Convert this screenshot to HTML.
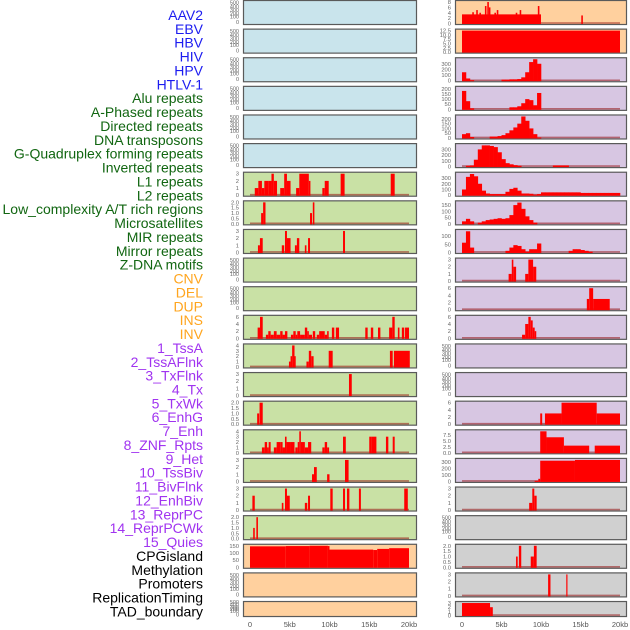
<!DOCTYPE html>
<html><head><meta charset="utf-8">
<style>
html,body{margin:0;padding:0;background:#fff;width:630px;height:630px;overflow:hidden}
svg{display:block}
text{font-family:"Liberation Sans",sans-serif}
</style></head>
<body>
<svg id="chart" width="630" height="630" viewBox="0 0 630 630" xmlns="http://www.w3.org/2000/svg"></svg>
<script>
// ---- labels ----
const labelNames = ["AAV2","EBV","HBV","HIV","HPV","HTLV-1","Alu repeats","A-Phased repeats","Directed repeats","DNA transposons","G-Quadruplex forming repeats","Inverted repeats","L1 repeats","L2 repeats","Low_complexity A/T rich regions","Microsatellites","MIR repeats","Mirror repeats","Z-DNA motifs","CNV","DEL","DUP","INS","INV","1_TssA","2_TssAFlnk","3_TxFlnk","4_Tx","5_TxWk","6_EnhG","7_Enh","8_ZNF_Rpts","9_Het","10_TssBiv","11_BivFlnk","12_EnhBiv","13_ReprPC","14_ReprPCWk","15_Quies","CPGisland","Methylation","Promoters","ReplicationTiming","TAD_boundary"];
const labelGroups = ["v","v","v","v","v","v","r","r","r","r","r","r","r","r","r","r","r","r","r","s","s","s","s","s","c","c","c","c","c","c","c","c","c","c","c","c","c","c","c","o","o","o","o","o"];
const xTicks = [0,5,10,15,20];
const xTickLabels = ["0","5kb","10kb","15kb","20kb"];

// ---- left column segment data [startKb, endKb, value] ----
const L6 = [[0.6,1.05,1],[1.05,1.5,2],[1.5,1.8,1],[1.8,2.3,2],[2.3,2.7,2],[2.7,3.0,3],[3.0,3.4,2],[3.8,4.3,1],[4.3,4.65,3],[4.65,5.1,2],[5.8,6.2,1],[6.2,7.4,3],[7.4,7.6,2],[9.1,9.4,1],[9.4,9.9,2],[11.4,11.9,3],[17.7,18.2,3]];
const L7 = [[1.4,1.65,1],[1.65,1.95,2],[7.55,7.8,1],[7.9,8.1,2]];
const L8 = [[1.0,1.25,1],[1.25,1.6,2],[4.0,4.3,1],[4.4,4.65,3],[4.65,5.1,2],[5.65,5.9,1],[5.9,6.2,2],[6.9,7.1,1],[7.3,7.55,2],[11.7,11.95,3]];
const L11 = [[0.96,1.26,3],[1.26,1.6,6],[2.0,2.3,1],[2.3,2.6,2],[2.6,3.0,1],[3.0,3.35,2],[3.35,3.8,1],[3.8,4.1,2],[4.1,4.4,1],[4.4,4.7,2],[5.15,5.45,1],[5.45,5.75,2],[5.75,5.95,1],[5.95,6.3,2],[6.3,6.9,1],[6.9,7.2,3],[7.2,7.4,2],[7.4,7.8,1],[7.9,8.2,2],[8.4,8.7,1],[8.7,9.4,2],[9.4,9.7,1],[9.7,9.9,2],[10.3,10.6,3],[10.8,11.2,3],[14.5,14.8,3],[15.2,15.5,3],[16.1,16.4,3],[17.5,17.9,3],[17.9,18.2,6],[18.6,18.8,3],[19.1,19.4,3],[19.5,20.0,3]];
const L12 = [[4.9,5.1,1],[5.1,5.3,2],[5.3,5.6,4],[5.6,5.75,2],[7.1,7.4,1],[7.4,7.7,3],[7.7,8.0,2],[9.9,10.4,3],[17.6,17.95,3],[18.1,20.1,3]];
const L13 = [[12.45,12.8,3]];
const L14 = [[0.9,1.15,1],[1.2,1.6,2]];
const L15 = [[1.5,1.85,1],[1.85,2.15,2],[2.15,2.35,1],[2.35,2.6,2],[3.0,3.35,1],[3.35,3.8,2],[3.8,4.1,2],[4.1,4.4,1],[4.4,4.6,3],[4.6,5.1,2],[5.1,5.6,2],[5.7,6.0,1],[6.0,6.2,2],[6.2,6.4,4],[6.4,6.9,2],[6.9,7.3,1],[7.3,7.7,2],[9.1,9.4,1],[9.4,9.7,2],[9.7,9.95,1],[11.7,12.05,3],[15.0,15.3,3],[15.3,15.9,3],[17.1,17.4,3],[17.95,18.2,3]];
const L16 = [[7.8,8.05,1],[8.05,8.4,2],[9.7,10.0,1],[11.95,12.4,3]];
const L17 = [[0.3,0.6,2],[4.0,4.2,1],[4.4,4.65,3],[4.65,5.0,2],[6.9,7.2,1],[7.3,7.55,2],[10.1,10.4,3],[11.7,11.95,3],[12.2,12.5,3],[13.7,13.95,3],[19.4,19.85,3]];
const L18 = [[0.4,0.6,1],[0.8,1.0,2]];
const L19 = [[0,4.5,148],[4.5,7.5,150],[7.5,9.8,152],[9.8,10,150],[10,15.5,125],[15.5,16,122],[16,17.5,130],[17.5,20,135]];

// ---- right column data ----
const R0 = [[0,10,3.4],[1.3,1.5,4.2],[1.8,2.0,5],[2.2,2.4,4],[2.9,3.1,6.5],[3.2,3.4,8],[3.4,3.6,6],[4.1,4.3,4],[4.4,4.6,5],[6.8,7.0,4],[7.3,7.5,5],[9.6,9.8,6.5],[15.1,15.3,3]];
const R1 = [[0,20,12.5]];
const R2bins = [150,40,10,0,0,0,0,0,0,0,20,20,25,25,30,60,150,330,380,300,0,0,0,0,0,0,0,0,0,0,0,0,0,0,0,0,0,0,0,0];
const R3bins = [180,80,10,0,0,0,0,0,0,0,0,0,20,20,30,60,100,90,40,160,0,0,0,0,0,0,0,0,0,0,0,0,0,0,0,0,0,0,0,0];
const R4bins = [40,50,10,0,0,0,0,15,15,20,30,50,80,110,150,225,180,100,40,5,0,0,0,0,0,0,0,0,0,0,0,0,0,0,0,0,0,0,0,0];
const R5bins = [0,15,20,120,300,370,370,360,340,250,130,60,40,25,15,0,0,0,0,0,0,0,0,20,20,20,20,0,0,0,0,0,0,0,0,0,0,0,0,0];
const R6bins = [100,320,370,330,200,80,30,20,20,20,20,60,110,130,80,30,30,25,10,20,50,50,50,50,50,50,50,50,50,50,40,40,40,40,40,40,40,40,40,40];
const R7bins = [20,40,20,0,10,20,30,35,40,45,40,45,70,150,170,120,60,30,10,0,0,0,0,0,0,0,0,0,0,0,0,0,0,0,0,0,0,0,0,0];
const R8bins = [60,130,30,0,0,0,0,0,0,0,0,10,30,45,40,20,5,20,20,55,0,0,0,0,0,0,0,10,20,20,15,10,5,0,0,0,0,0,0,0];
const R9 = [[5.9,6.3,1],[6.3,6.5,3],[6.5,6.85,2],[8.0,8.4,1],[8.4,9.0,3],[9.0,9.4,2]];
const R10 = [[15.8,16.1,3],[16.1,16.6,6],[16.6,18.7,3]];
const R11 = [[7.6,8.0,1],[8.0,8.4,4],[8.4,8.7,6],[8.7,8.95,5],[8.95,9.2,3],[9.2,9.4,2]];
const R14 = [[9.9,10.15,3],[10.5,12.6,3],[12.6,17.05,6],[17.05,20,3]];
const R15 = [[9.9,10.7,9],[10.7,12.9,6.5],[12.9,16.1,3],[16.8,20,3]];
const R16 = [[9.2,9.66,10],[9.66,9.9,40],[9.9,14.3,318],[14.3,20,330]];
const R17 = [[8.5,8.9,1],[8.9,9.15,3],[9.15,9.45,2]];
const R19 = [[6.84,7.05,1],[7.2,7.5,2],[8.7,9.1,1],[9.1,9.45,2]];
const R20 = [[10.9,11.2,3],[13.2,13.35,3]];
const R21 = [[0,3.55,3],[3.55,3.9,2]];

const NS = "http://www.w3.org/2000/svg";
const svg = document.getElementById("chart");
function mk(tag, attrs, parent){
  const e = document.createElementNS(NS, tag);
  for (const k in attrs) e.setAttribute(k, attrs[k]);
  (parent||svg).appendChild(e);
  return e;
}
const BG = {blue:"#c9e4ec", green:"#c9e1a5", orange:"#ffd09e", purple:"#d7c6e2", gray:"#d0d0d0"};
const COLS = [{x0:243,x1:417,z:250,t:409},{x0:455,x1:627,z:462,t:620}];
function rowTop(r){ return r*28.62; }
function rowH(r){ return r===21 ? 16 : 25; }

const panels = [
 // left column
 {c:0,r:0,bg:"blue"},{c:0,r:1,bg:"blue"},{c:0,r:2,bg:"blue"},{c:0,r:3,bg:"blue"},{c:0,r:4,bg:"blue"},{c:0,r:5,bg:"blue"},
 {c:0,r:6,bg:"green",max:3,ticks:[0,1,2,3],segs:L6},
 {c:0,r:7,bg:"green",max:2,ticks:[0,0.5,1,1.5,2],dec:1,segs:L7},
 {c:0,r:8,bg:"green",max:3,ticks:[0,1,2,3],segs:L8},
 {c:0,r:9,bg:"green"},{c:0,r:10,bg:"green"},
 {c:0,r:11,bg:"green",max:6,ticks:[0,2,4,6],segs:L11},
 {c:0,r:12,bg:"green",max:4,ticks:[0,1,2,3,4],segs:L12},
 {c:0,r:13,bg:"green",max:3,ticks:[0,1,2,3],segs:L13},
 {c:0,r:14,bg:"green",max:2,ticks:[0,0.5,1,1.5,2],dec:1,segs:L14},
 {c:0,r:15,bg:"green",max:4,ticks:[0,1,2,3,4],segs:L15},
 {c:0,r:16,bg:"green",max:3,ticks:[0,1,2,3],segs:L16},
 {c:0,r:17,bg:"green",max:3,ticks:[0,1,2,3],segs:L17},
 {c:0,r:18,bg:"green",max:2,ticks:[0,0.5,1,1.5,2],dec:1,segs:L18},
 {c:0,r:19,bg:"orange",max:152,ticks:[0,50,100,150],segs:L19,nobase:true},
 {c:0,r:20,bg:"orange"},{c:0,r:21,bg:"orange"},
 // right column
 {c:1,r:0,bg:"orange",max:8,ticks:[0,2,4,6,8],segs:R0},
 {c:1,r:1,bg:"orange",max:12.5,ticks:[0,2.5,5,7.5,10,12.5],dec:1,segs:R1},
 {c:1,r:2,bg:"purple",max:380,ticks:[0,100,200,300],bins:R2bins},
 {c:1,r:3,bg:"purple",max:210,ticks:[0,50,100,150,200],bins:R3bins},
 {c:1,r:4,bg:"purple",max:225,ticks:[0,50,100,150,200],bins:R4bins},
 {c:1,r:5,bg:"purple",max:375,ticks:[0,100,200,300],bins:R5bins},
 {c:1,r:6,bg:"purple",max:375,ticks:[0,100,200,300],bins:R6bins},
 {c:1,r:7,bg:"purple",max:172,ticks:[0,50,100,150],bins:R7bins},
 {c:1,r:8,bg:"purple",max:132,ticks:[0,50,100],bins:R8bins},
 {c:1,r:9,bg:"purple",max:3,ticks:[0,1,2,3],segs:R9},
 {c:1,r:10,bg:"purple",max:6,ticks:[0,2,4,6],segs:R10},
 {c:1,r:11,bg:"purple",max:6,ticks:[0,2,4,6],segs:R11},
 {c:1,r:12,bg:"purple"},{c:1,r:13,bg:"purple"},
 {c:1,r:14,bg:"purple",max:6,ticks:[0,2,4,6],segs:R14},
 {c:1,r:15,bg:"purple",max:9,ticks:[0,2.5,5,7.5],dec:1,segs:R15},
 {c:1,r:16,bg:"purple",max:330,ticks:[0,100,200,300],segs:R16},
 {c:1,r:17,bg:"gray",max:3,ticks:[0,1,2,3],segs:R17},
 {c:1,r:18,bg:"gray"},
 {c:1,r:19,bg:"gray",max:2,ticks:[0,0.5,1,1.5,2],dec:1,segs:R19},
 {c:1,r:20,bg:"gray",max:3,ticks:[0,1,2,3],segs:R20},
 {c:1,r:21,bg:"gray",max:3,ticks:[0,1,2,3],segs:R21}
];

const emptyTicks = [0,100,200,300,400,500];
const emptyOff = [1.5,7,10,13.5,17,21];

panels.forEach((p, idx) => {
  const col = COLS[p.c];
  const top = rowTop(p.r), h = rowH(p.r);
  const g = mk("g", {});
  
  
  const rect = mk("rect", {x:col.x0+0.5, y:top+0.5, width:col.x1-col.x0-1, height:h-1, fill:BG[p.bg], stroke:"#5a5a5a", "stroke-width":1.2}, g);
  
  
  const xs = kb => col.z + kb*(col.t-col.z)/20;
  const base = top + h - 1.5;
  if (p.max === undefined) {
    emptyTicks.forEach((t, i) => {
      const tx = mk("text", {x:col.x0-4, y:base - emptyOff[i]*(h/25) + 2, "font-size":5.5, fill:"#666", "text-anchor":"end"}, g);
      
      
      tx.textContent = t;
    });
    return;
  }
  const ys = v => base - v/p.max*(h-3.5);
  p.ticks.forEach(t => {
    const tx = mk("text", {x:col.x0-4, y:ys(t)+2, "font-size":5.8, fill:"#666", "text-anchor":"end"}, g);
    
    
    tx.textContent = p.dec ? t.toFixed(1) : String(t);
  });
  if (!p.nobase) {
    const bl = mk("line", {x1:xs(0), x2:xs(20), y1:base-0.5, y2:base-0.5, stroke:"rgba(150,20,20,0.55)", "stroke-width":1.6}, g);
    
    
  }
  if (p.segs) {
    p.segs.forEach(s => {
      const b = mk("rect", {x:xs(s[0]), y:ys(s[2]), width:Math.max(0.8, xs(s[1])-xs(s[0])), height:base-ys(s[2])+0.5, fill:"#ff0000"}, g);
      
      
    });
  }
  if (p.bins) {
    const bw = 20 / p.bins.length;
    p.bins.forEach((v, i) => {
      if (v <= 0) return;
      const b = mk("rect", {x:xs(i*bw), y:ys(v), width:xs((i+1)*bw)-xs(i*bw)+0.3, height:base-ys(v)+0.5, fill:"#ff0000"}, g);
      
      
    });
  }
});

// x-axis labels
COLS.forEach(col => {
  xTicks.forEach((t, i) => {
    const tx = mk("text", {x:col.z + t*(col.t-col.z)/20, y:627, "font-size":7.5, fill:"#555", "text-anchor":"middle"});
    
    
    tx.textContent = xTickLabels[i];
  });
});

// row labels
const GC = {v:"#1c1cf0", r:"#116611", s:"#ffa51e", c:"#a033f0", o:"#000000"};
labelNames.forEach((n, i) => {
  const tx = mk("text", {x:203, y:20 + i*13.87, "font-size":14, fill:GC[labelGroups[i]], "text-anchor":"end"});
  
  
  tx.textContent = n;
});
</script>
</body></html>
